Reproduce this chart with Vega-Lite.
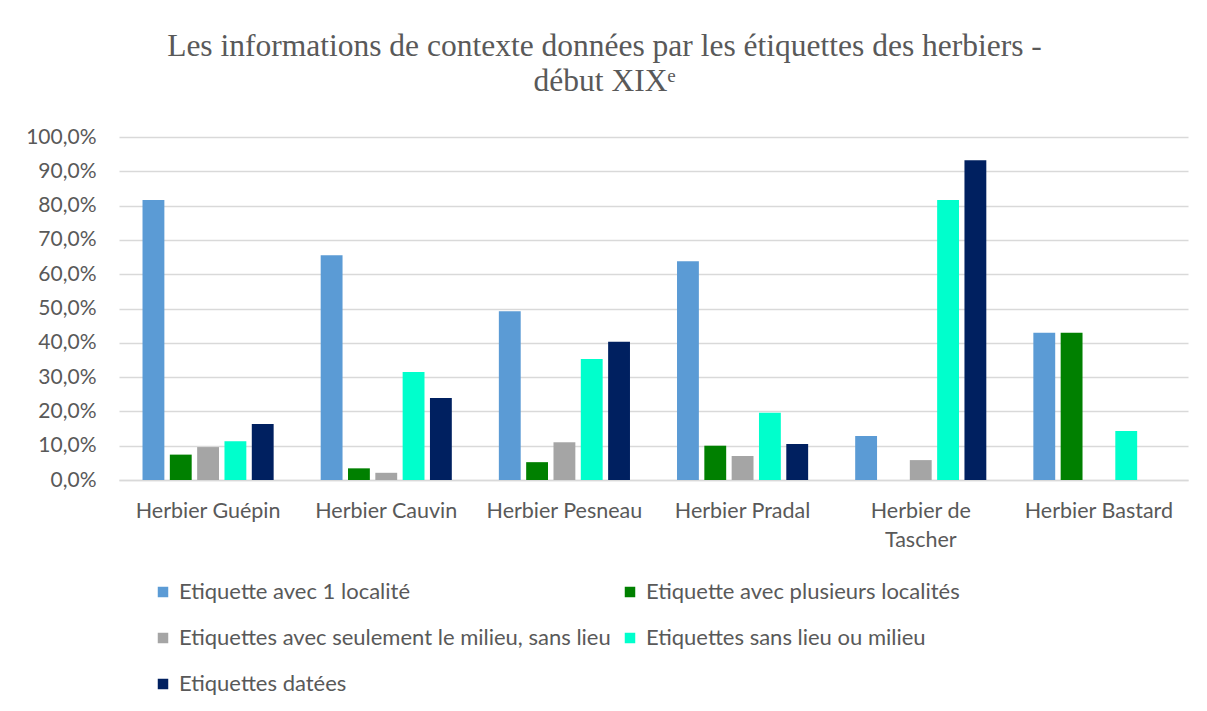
{
  "$schema": "https://vega.github.io/schema/vega-lite/v6.json",
  "width": 1069,
  "height": 343,
  "autosize": {"type": "none"},
  "padding": {"left": 119, "top": 137, "right": 19, "bottom": 231},
  "background": "white",
  "title": {
    "text": ["Les informations de contexte données par les étiquettes des herbiers -", "début XIXᵉ"],
    "font": "Liberation Serif",
    "fontSize": 31.5,
    "fontWeight": "normal",
    "color": "#595959",
    "lineHeight": 35,
    "anchor": "middle",
    "dx": -49,
    "offset": 29
  },
  "data": {
    "values": [
      {"herbier": "Herbier Guépin", "type": "Etiquette avec 1 localité", "valeur": 0.816},
      {"herbier": "Herbier Guépin", "type": "Etiquette avec plusieurs localités", "valeur": 0.074},
      {"herbier": "Herbier Guépin", "type": "Etiquettes avec seulement le milieu, sans lieu", "valeur": 0.096},
      {"herbier": "Herbier Guépin", "type": "Etiquettes sans lieu ou milieu", "valeur": 0.113},
      {"herbier": "Herbier Guépin", "type": "Etiquettes datées", "valeur": 0.163},
      {"herbier": "Herbier Cauvin", "type": "Etiquette avec 1 localité", "valeur": 0.655},
      {"herbier": "Herbier Cauvin", "type": "Etiquette avec plusieurs localités", "valeur": 0.034},
      {"herbier": "Herbier Cauvin", "type": "Etiquettes avec seulement le milieu, sans lieu", "valeur": 0.021},
      {"herbier": "Herbier Cauvin", "type": "Etiquettes sans lieu ou milieu", "valeur": 0.315},
      {"herbier": "Herbier Cauvin", "type": "Etiquettes datées", "valeur": 0.239},
      {"herbier": "Herbier Pesneau", "type": "Etiquette avec 1 localité", "valeur": 0.492},
      {"herbier": "Herbier Pesneau", "type": "Etiquette avec plusieurs localités", "valeur": 0.052},
      {"herbier": "Herbier Pesneau", "type": "Etiquettes avec seulement le milieu, sans lieu", "valeur": 0.110},
      {"herbier": "Herbier Pesneau", "type": "Etiquettes sans lieu ou milieu", "valeur": 0.353},
      {"herbier": "Herbier Pesneau", "type": "Etiquettes datées", "valeur": 0.403},
      {"herbier": "Herbier Pradal", "type": "Etiquette avec 1 localité", "valeur": 0.638},
      {"herbier": "Herbier Pradal", "type": "Etiquette avec plusieurs localités", "valeur": 0.100},
      {"herbier": "Herbier Pradal", "type": "Etiquettes avec seulement le milieu, sans lieu", "valeur": 0.070},
      {"herbier": "Herbier Pradal", "type": "Etiquettes sans lieu ou milieu", "valeur": 0.196},
      {"herbier": "Herbier Pradal", "type": "Etiquettes datées", "valeur": 0.105},
      {"herbier": "Herbier de Tascher", "type": "Etiquette avec 1 localité", "valeur": 0.128},
      {"herbier": "Herbier de Tascher", "type": "Etiquette avec plusieurs localités", "valeur": 0},
      {"herbier": "Herbier de Tascher", "type": "Etiquettes avec seulement le milieu, sans lieu", "valeur": 0.058},
      {"herbier": "Herbier de Tascher", "type": "Etiquettes sans lieu ou milieu", "valeur": 0.816},
      {"herbier": "Herbier de Tascher", "type": "Etiquettes datées", "valeur": 0.932},
      {"herbier": "Herbier Bastard", "type": "Etiquette avec 1 localité", "valeur": 0.429},
      {"herbier": "Herbier Bastard", "type": "Etiquette avec plusieurs localités", "valeur": 0.429},
      {"herbier": "Herbier Bastard", "type": "Etiquettes avec seulement le milieu, sans lieu", "valeur": 0},
      {"herbier": "Herbier Bastard", "type": "Etiquettes sans lieu ou milieu", "valeur": 0.143},
      {"herbier": "Herbier Bastard", "type": "Etiquettes datées", "valeur": 0}
    ]
  },
  "mark": {"type": "bar"},
  "encoding": {
    "x": {
      "field": "herbier",
      "type": "nominal",
      "sort": null,
      "scale": {"paddingInner": 0.264, "paddingOuter": 0.132},
      "axis": {
        "title": null,
        "labelAngle": 0,
        "labelFont": "Lato",
        "labelFontSize": 21.5,
        "labelColor": "#595959",
        "labelPadding": 20,
        "labelLineHeight": 29,
        "labelBaseline": "top",
        "ticks": false,
        "domainColor": "#d9d9d9",
        "domainWidth": 1.5,
        "labelExpr": "datum.label == 'Herbier de Tascher' ? ['Herbier de', 'Tascher'] : datum.label"
      }
    },
    "xOffset": {
      "field": "type",
      "type": "nominal",
      "sort": null,
      "scale": {"paddingInner": 0.2, "paddingOuter": 0}
    },
    "y": {
      "field": "valeur",
      "type": "quantitative",
      "scale": {"domain": [0, 1], "nice": false},
      "axis": {
        "title": null,
        "values": [0, 0.1, 0.2, 0.3, 0.4, 0.5, 0.6, 0.7, 0.8, 0.9, 1],
        "labelExpr": "replace(format(datum.value, '.1%'), '.', ',')",
        "labelFont": "Lato",
        "labelFontSize": 21,
        "labelColor": "#595959",
        "labelPadding": 23,
        "ticks": false,
        "domain": false,
        "gridColor": "#d9d9d9",
        "gridWidth": 1.5
      }
    },
    "color": {
      "field": "type",
      "type": "nominal",
      "scale": {
        "domain": ["Etiquette avec 1 localité", "Etiquette avec plusieurs localités", "Etiquettes avec seulement le milieu, sans lieu", "Etiquettes sans lieu ou milieu", "Etiquettes datées"],
        "range": ["#5b9bd5", "#008000", "#a5a5a5", "#00ffcc", "#002060"]
      },
      "legend": {
        "title": null,
        "orient": "none",
        "legendX": 33,
        "legendY": 444,
        "direction": "horizontal",
        "columns": 2,
        "columnPadding": 8,
        "rowPadding": 24,
        "symbolType": "square",
        "symbolSize": 110,
        "symbolStrokeWidth": 0,
        "labelFont": "Lato",
        "labelFontSize": 22,
        "labelColor": "#595959",
        "labelLimit": 700,
        "labelOffset": 5
      }
    }
  },
  "config": {
    "view": {"stroke": null}
  }
}
